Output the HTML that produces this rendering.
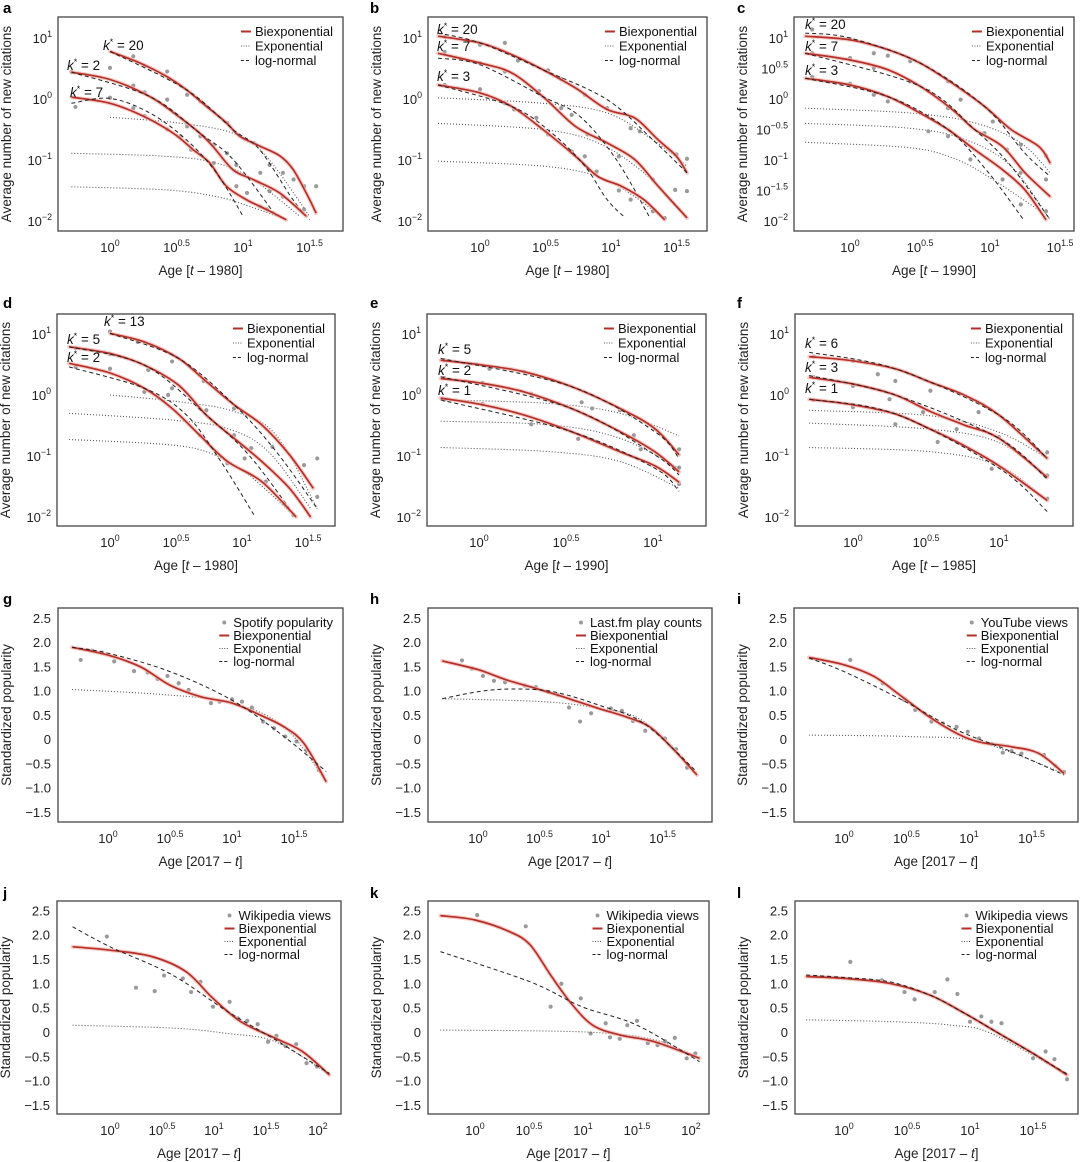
<!DOCTYPE html>
<html><head><meta charset="utf-8"><style>
html,body{margin:0;padding:0;background:#fff;}
svg{display:block;font-family:"Liberation Sans",Arial,sans-serif;}
</style></head><body>
<svg id="fig" width="1080" height="1162" viewBox="0 0 1080 1162" xmlns="http://www.w3.org/2000/svg"></svg>
<script>
// ---------- DATA (x = log10 age, y = log10 value for citation panels / standardized value for popularity) ----------
const aK20Bi=[[0,.78],[.225,.59],[.425,.37],[.575,.15],[.725,-.12],[.875,-.39],[.975,-.61],[1.125,-.77],[1.275,-.93],[1.375,-1.15],[1.475,-1.54],[1.55,-1.87]];
const aK2Bi=[[-.29,.44],[0,.32],[.3,.04],[.5,-.26],[.675,-.56],[.775,-.78],[.925,-1.16],[1.075,-1.32],[1.275,-1.54],[1.475,-1.92]];
const aK7Bi=[[-.29,.03],[0,-.07],[.25,-.28],[.475,-.56],[.625,-.83],[.75,-1.05],[.875,-1.43],[1.025,-1.65],[1.175,-1.81],[1.325,-1.98]];
const aK20Ex=[[0,-.3],[.5,-.39],[.925,-.56],[1.175,-.94],[1.5,-1.92]];
const aK2Ex=[[-.29,-.89],[.425,-.94],[.8,-1.05],[1.075,-1.32],[1.425,-1.92]];
const aK7Ex=[[-.29,-1.44],[.425,-1.49],[.8,-1.6],[1.05,-1.76],[1.325,-1.98]];
const aK20Ln=[[0,.78],[.575,.15],[.925,-.5],[1.125,-.83],[1.375,-1.65],[1.5,-1.98]];
const aK2Ln=[[-.29,.44],[.3,.04],[.675,-.56],[.925,-.99],[1.25,-1.92]];
const aK7Ln=[[-.29,-.07],[0,.01],[.3,-.23],[.575,-.67],[.8,-1.21],[1,-1.92]];
const aK20Pts=[[.175,.7],[.26,.54],[.43,.45],[.58,.07],[.68,-.04],[.88,-.39],[1.08,-.72],[1.2,-1.08],[1.3,-1.21],[1.38,-1.32],[1.46,-1.43],[1.55,-1.43]];
const aK2Pts=[[-.29,.44],[0,.51],[.175,.22],[.26,.11],[.43,-.01],[.58,-.45],[.68,-.61],[.78,-.75],[.88,-.89],[.95,-1.08],[1.13,-1.21],[1.2,-1.51],[1.3,-1.6],[1.46,-1.81]];
const aK7Pts=[[-.26,-.13],[0,.02],[.175,-.15],[.26,-.28],[.43,-.5],[.53,-.61],[.61,-.83],[.78,-1.05],[.95,-1.43],[1.03,-1.54],[1.13,-1.76],[1.18,-1.81]];

const bK20Bi=[[-.32,1.03],[0,.92],[.24,.73],[.48,.48],[.73,.18],[.97,-.17],[1.18,-.31],[1.36,-.67],[1.5,-.94],[1.58,-1.21]];
const bK7Bi=[[-.32,.75],[0,.59],[.24,.43],[.48,.04],[.73,-.45],[.97,-.72],[1.18,-.99],[1.36,-1.43],[1.58,-1.95]];
const bK3Bi=[[-.32,.23],[0,.1],[.24,-.12],[.48,-.5],[.73,-.94],[.9,-1.27],[1.08,-1.43],[1.25,-1.65],[1.41,-1.98]];
const bK20Ex=[[-.32,.02],[.48,-.07],[.97,-.23],[1.32,-.67],[1.58,-1.1]];
const bK7Ex=[[-.32,-.4],[.48,-.5],[.9,-.72],[1.25,-1.21],[1.58,-1.92]];
const bK3Ex=[[-.32,-1.02],[.48,-1.1],[.9,-1.27],[1.18,-1.6],[1.41,-1.98]];
const bK20Ln=[[-.32,1.08],[0,.92],[.48,.48],[.97,-.01],[1.32,-.67],[1.58,-1.21]];
const bK7Ln=[[-.32,.67],[0,.56],[.48,.04],[.76,-.28],[1.04,-.99],[1.29,-1.92]];
const bK3Ln=[[-.32,.23],[.24,-.12],[.55,-.56],[.8,-1.1],[.97,-1.65],[1.11,-1.95]];
const bK20Pts=[[-.27,1.02],[0,.89],[.19,.92],[.29,.63],[.52,.47],[.62,.33],[.8,.07],[.97,-.15],[1.15,-.48],[1.22,-.53],[1.5,-.91],[1.58,-.98]];
const bK7Pts=[[-.27,.77],[0,.59],[.19,.45],[.45,.13],[.62,-.15],[.7,-.26],[.82,-.58],[1.06,-.94],[1.32,-1.32],[1.49,-1.49],[1.58,-1.51]];
const bK3Pts=[[-.27,.23],[0,.16],[.19,-.07],[.26,-.17],[.43,-.31],[.52,-.58],[.7,-.86],[.8,-.94],[.89,-1.19],[1.06,-1.5],[1.15,-1.65],[1.32,-1.84],[1.41,-1.95]];

const cK20Bi=[[-.32,1.03],[0,.97],[.27,.81],[.5,.59],[.73,.26],[.96,-.12],[1.15,-.5],[1.35,-.78],[1.43,-1.05]];
const cK7Bi=[[-.32,.75],[0,.64],[.27,.48],[.5,.21],[.73,-.17],[.89,-.5],[1.09,-.78],[1.25,-1.21],[1.43,-1.6]];
const cK3Bi=[[-.32,.34],[0,.23],[.27,.04],[.5,-.23],[.7,-.5],[.89,-.83],[1.09,-1.16],[1.25,-1.49],[1.4,-1.98]];
const cK20Ex=[[-.32,-.15],[.43,-.23],[.89,-.39],[1.22,-.72],[1.43,-1.21]];
const cK7Ex=[[-.32,-.4],[.43,-.48],[.83,-.67],[1.15,-1.1],[1.43,-1.98]];
const cK3Ex=[[-.32,-.71],[.43,-.8],[.76,-.99],[1.02,-1.32],[1.38,-1.87]];
const cK20Ln=[[-.32,1.08],[0,1.0],[.5,.59],[.96,-.12],[1.25,-.89],[1.43,-1.27]];
const cK7Ln=[[-.32,.75],[.5,.21],[.89,-.5],[1.15,-1.1],[1.43,-1.98]];
const cK3Ln=[[-.32,.34],[.27,.04],[.7,-.5],[.99,-1.21],[1.24,-1.98]];
const cK20Pts=[[-.27,1.14],[0,.98],[.17,.75],[.27,.71],[.43,.62],[.7,.29],[.79,-.01],[1.02,-.37],[1.22,-.75],[1.4,-.93]];
const cK7Pts=[[-.27,.75],[0,.67],[.17,.51],[.43,.29],[.56,.13],[.7,-.15],[.96,-.56],[1.12,-.83],[1.22,-1.21],[1.4,-1.32]];
const cK3Pts=[[-.27,.36],[0,.25],[.17,.07],[.27,-.04],[.56,-.53],[.7,-.61],[.86,-.99],[1.09,-1.32],[1.22,-1.73],[1.4,-1.84]];

const dK13Bi=[[0,1.01],[.26,.87],[.52,.6],[.73,.22],[.94,-.16],[1.15,-.49],[1.36,-.98],[1.54,-1.53]];
const dK5Bi=[[-.31,.79],[0,.68],[.26,.49],[.52,.16],[.73,-.33],[.94,-.71],[1.15,-1.09],[1.36,-1.53],[1.52,-2.0]];
const dK2Bi=[[-.31,.52],[0,.36],[.26,.11],[.47,-.22],[.68,-.66],[.89,-1.09],[1.15,-1.42],[1.41,-2.0]];
const dK13Ex=[[0,0],[.52,-.11],[.94,-.27],[1.26,-.66],[1.57,-1.86]];
const dK5Ex=[[-.31,-.3],[.47,-.41],[.89,-.55],[1.2,-.93],[1.52,-1.86]];
const dK2Ex=[[-.31,-.73],[.47,-.82],[.79,-.98],[1.05,-1.31],[1.36,-1.91]];
const dK13Ln=[[0,1.01],[.52,.6],[.94,-.16],[1.26,-.93],[1.57,-1.86]];
const dK5Ln=[[-.31,.79],[.26,.49],[.73,-.33],[1.05,-.98],[1.36,-1.86]];
const dK2Ln=[[-.31,.46],[.26,.11],[.58,-.33],[.84,-1.09],[1.1,-2.0]];
const dK13Pts=[[0,1.04],[.21,.87],[.47,.55],[.71,.23],[.94,-.22],[1.23,-.85],[1.47,-1.15],[1.57,-1.04]];
const dK5Pts=[[-.26,.77],[0,.67],[.29,.41],[.47,.11],[.73,-.25],[.94,-.66],[1.07,-.87],[1.32,-1.78],[1.57,-1.67]];
const dK2Pts=[[-.26,.46],[0,.43],[.26,.05],[.44,0],[.68,-.66],[.89,-1.12],[1.02,-1.04],[1.18,-1.42],[1.39,-1.97]];

const eK5Bi=[[-.22,.57],[.02,.49],[.26,.38],[.53,.14],[.81,-.22],[1.01,-.55],[1.15,-.98]];
const eK2Bi=[[-.22,.27],[.02,.19],[.26,.05],[.53,-.22],[.81,-.6],[1.01,-.93],[1.15,-1.26]];
const eK1Bi=[[-.22,-.05],[.02,-.16],[.26,-.33],[.53,-.6],[.81,-.93],[1.01,-1.16],[1.15,-1.43]];
const eK5Ex=[[-.22,-.08],[.41,-.14],[.81,-.3],[1.15,-.67]];
const eK2Ex=[[-.22,-.43],[.41,-.49],[.81,-.71],[1.15,-1.2]];
const eK1Ex=[[-.22,-.86],[.41,-.93],[.81,-1.09],[1.15,-1.53]];
const eK5Ln=[[-.22,.6],[.53,.14],[1.01,-.6],[1.15,-1.04]];
const eK2Ln=[[-.22,.3],[.53,-.22],[1.01,-.98],[1.15,-1.31]];
const eK1Ln=[[-.22,-.08],[.53,-.6],[1.01,-1.2],[1.15,-1.58]];
const eK5Pts=[[-.2,.57],[.06,.43],[.26,.38],[.59,-.12],[.81,-.25],[1.15,-.89]];
const eK2Pts=[[-.2,.28],[.02,.2],[.3,.02],[.65,-.22],[.89,-.66],[1.15,-1.19]];
const eK1Pts=[[-.2,-.08],[.02,-.15],[.3,-.48],[.57,-.72],[.93,-.89],[1.15,-1.46]];

const fK6Bi=[[-.3,.63],[0,.56],[.29,.43],[.53,.21],[.76,0],[1.0,-.33],[1.33,-1.04]];
const fK3Bi=[[-.3,.29],[0,.18],[.29,0],[.53,-.27],[.76,-.49],[1.0,-.71],[1.33,-1.35]];
const fK1Bi=[[-.3,-.07],[0,-.16],[.29,-.31],[.53,-.56],[.76,-.83],[1.0,-1.16],[1.33,-1.73]];
const fK6Ex=[[-.3,-.25],[.53,-.34],[1.0,-.61],[1.33,-1.04]];
const fK3Ex=[[-.3,-.46],[.53,-.56],[1.0,-.78],[1.33,-1.35]];
const fK1Ex=[[-.3,-.86],[.53,-.93],[1.0,-1.16],[1.33,-1.73]];
const fK6Ln=[[-.3,.7],[.29,.43],[1.0,-.33],[1.33,-1.04]];
const fK3Ln=[[-.3,.32],[.29,0],[1.0,-.71],[1.33,-1.38]];
const fK1Ln=[[-.3,-.07],[.29,-.31],[1.0,-1.2],[1.33,-1.91]];
const fK6Pts=[[-.27,.63],[0,.56],[.17,.34],[.29,.23],[.53,.07],[.86,-.28],[1.33,-.94]];
const fK3Pts=[[-.27,.29],[0,.15],[.25,-.07],[.48,-.28],[.71,-.56],[1.0,-.69],[1.33,-1.32]];
const fK1Pts=[[-.27,-.08],[0,-.2],[.29,-.48],[.58,-.77],[.95,-1.21],[1.33,-1.7]];

const gBi=[[-.29,1.89],[0,1.73],[.26,1.49],[.5,1.11],[.75,.87],[1.0,.74],[1.23,.49],[1.42,.25],[1.58,-.09],[1.76,-.88]];
const gEx=[[-.29,1.02],[.48,.91],[1.0,.74],[1.42,.25],[1.76,-.88]];
const gLn=[[-.29,1.89],[0,1.77],[.5,1.39],[1.0,.8],[1.42,.05],[1.76,-.67]];
const gPts=[[-.22,1.63],[-.13,1.82],[-.05,1.78],[.05,1.6],[.21,1.4],[.32,1.37],[.4,1.24],[.48,1.3],[.57,1.15],[.65,1.01],[.83,.74],[.9,.77],[1.0,.82],[1.08,.77],[1.16,.65],[1.25,.36],[1.34,.22],[1.43,.05],[1.52,-.05],[1.6,-.23],[1.7,-.64]];

const hBi=[[-.29,1.61],[0,1.43],[.23,1.22],[.46,1.05],[.68,.88],[.98,.63],[1.2,.46],[1.39,.26],[1.57,-.16],[1.78,-.74]];
const hEx=[[-.29,.83],[.53,.77],[.98,.63],[1.35,.36],[1.78,-.74]];
const hLn=[[-.29,.83],[.01,.98],[.27,1.03],[.6,.98],[.98,.7],[1.35,.32],[1.78,-.68]];
const hPts=[[-.13,1.62],[-.05,1.45],[.04,1.3],[.13,1.2],[.22,1.17],[.38,1.1],[.47,1.07],[.57,.97],[.65,.91],[.74,.65],[.83,.36],[.92,.53],[1.08,.63],[1.17,.58],[1.26,.37],[1.36,.17],[1.52,.01],[1.61,-.21],[1.7,-.59]];

const iBi=[[-.28,1.68],[0,1.53],[.24,1.29],[.46,.88],[.68,.46],[.9,.12],[1.08,-.06],[1.34,-.16],[1.56,-.3],[1.76,-.71]];
const iEx=[[-.28,.08],[.53,.05],[1.08,-.06],[1.76,-.71]];
const iLn=[[-.28,1.67],[0,1.39],[.46,.81],[.9,.19],[1.34,-.26],[1.76,-.74]];
const iPts=[[.05,1.63],[.31,1.15],[.48,.81],[.57,.6],[.7,.36],[.79,.32],[.9,.25],[.99,.15],[1.08,.01],[1.18,-.1],[1.27,-.28],[1.34,-.25],[1.42,-.3],[1.6,-.33],[1.69,-.55],[1.76,-.68]];

const jBi=[[-.36,1.75],[0,1.68],[.4,1.55],[.73,1.24],[.99,.69],[1.26,.21],[1.59,-.13],[1.85,-.4],[2.11,-.88]];
const jEx=[[-.36,.14],[.6,.08],[1.13,-.03],[1.59,-.2],[2.11,-.88]];
const jLn=[[-.36,2.16],[0,1.75],[.6,1.17],[1.13,.42],[1.59,-.16],[2.11,-.85]];
const jPts=[[-.03,1.96],[.25,.91],[.43,.84],[.52,1.16],[.7,1.1],[.78,.82],[.87,1.03],[.99,.52],[1.15,.62],[1.23,.28],[1.32,.23],[1.42,.16],[1.52,-.2],[1.6,-.08],[1.69,-.29],[1.79,-.25],[1.89,-.64],[1.99,-.71]];

const kBi=[[-.32,2.39],[0,2.3],[.32,2.06],[.51,1.79],[.7,1.17],[.89,.59],[1.09,.14],[1.34,-.06],[1.66,-.2],[2.08,-.54]];
const kEx=[[-.32,.04],[1.02,0],[1.66,-.16],[2.08,-.54]];
const kLn=[[-.32,1.65],[.51,1.03],[.99,.52],[1.5,.14],[2.08,-.61]];
const kPts=[[.02,2.4],[.47,2.17],[.7,.52],[.8,.99],[.98,.69],[1.07,-.03],[1.21,.18],[1.25,-.11],[1.34,-.14],[1.41,.14],[1.5,.23],[1.6,-.23],[1.69,-.27],[1.76,-.19],[1.85,-.12],[1.96,-.54],[2.04,-.44]];

const lBi=[[-.3,1.14],[0,1.1],[.36,1.0],[.68,.76],[.96,.38],[1.23,-.03],[1.5,-.44],[1.77,-.88]];
const lEx=[[-.3,.25],[.41,.21],[.85,.14],[1.17,-.03],[1.77,-.88]];
const lLn=[[-.3,1.17],[0,1.12],[.36,1.03],[.68,.76],[.96,.38],[1.23,-.03],[1.77,-.86]];
const lPts=[[.05,1.44],[.3,1.06],[.48,.82],[.56,.67],[.72,.82],[.82,1.08],[.9,.78],[1.0,.21],[1.09,.32],[1.17,.21],[1.25,.18],[1.5,-.54],[1.6,-.4],[1.67,-.56],[1.77,-.97]];

const citeYTicks=[1,0,-1,-2];
const citeYTicksHalf=[1,.5,0,-.5,-1,-1.5,-2];
const popYTicks=[2.5,2,1.5,1,.5,0,-.5,-1,-1.5];
const popYLabels=["2.5","2.0","1.5","1.0","0.5","0","\u22120.5","\u22121.0","\u22121.5"];

// ---------- LAYOUT ----------
const panels=[
 {id:'a',lx:3,ly:13,box:[58,17,343,231],x0:110,ppd:133,yz:99,ppy:61,kind:'cite',yt:citeYTicks,xt:[0,.5,1,1.5],yr:'1980',
  curves:[[aK20Bi,aK20Ex,aK20Ln,aK20Pts],[aK2Bi,aK2Ex,aK2Ln,aK2Pts],[aK7Bi,aK7Ex,aK7Ln,aK7Pts]],
  labels:[['20',103,50],['2',67,70],['7',70,97]]},
 {id:'b',lx:370,ly:13,box:[428,17,707,231],x0:480,ppd:131,yz:99,ppy:61,kind:'cite',yt:citeYTicks,xt:[0,.5,1,1.5],yr:'1980',
  curves:[[bK20Bi,bK20Ex,bK20Ln,bK20Pts],[bK7Bi,bK7Ex,bK7Ln,bK7Pts],[bK3Bi,bK3Ex,bK3Ln,bK3Pts]],
  labels:[['20',437,34],['7',437,51],['3',437,81]]},
 {id:'c',lx:737,ly:13,box:[794,17,1074,231],x0:850,ppd:140,yz:99,ppy:61,kind:'cite',yt:citeYTicksHalf,xt:[0,.5,1,1.5],yr:'1990',
  curves:[[cK20Bi,cK20Ex,cK20Ln,cK20Pts],[cK7Bi,cK7Ex,cK7Ln,cK7Pts],[cK3Bi,cK3Ex,cK3Ln,cK3Pts]],
  labels:[['20',805,29],['7',805,51],['3',805,75]]},
 {id:'d',lx:3,ly:308,box:[57,314,335,526],x0:110,ppd:132,yz:395,ppy:61,kind:'cite',yt:citeYTicks,xt:[0,.5,1,1.5],yr:'1980',
  curves:[[dK13Bi,dK13Ex,dK13Ln,dK13Pts],[dK5Bi,dK5Ex,dK5Ln,dK5Pts],[dK2Bi,dK2Ex,dK2Ln,dK2Pts]],
  labels:[['13',104,326],['5',67,344],['2',67,362]]},
 {id:'e',lx:370,ly:308,box:[427,314,706,526],x0:479,ppd:174,yz:395,ppy:61,kind:'cite',yt:citeYTicks,xt:[0,.5,1],yr:'1990',
  curves:[[eK5Bi,eK5Ex,eK5Ln,eK5Pts],[eK2Bi,eK2Ex,eK2Ln,eK2Pts],[eK1Bi,eK1Ex,eK1Ln,eK1Pts]],
  labels:[['5',438,354],['2',438,375],['1',438,395]]},
 {id:'f',lx:737,ly:308,box:[795,314,1073,526],x0:853,ppd:146,yz:395,ppy:61,kind:'cite',yt:citeYTicks,xt:[0,.5,1],yr:'1985',
  curves:[[fK6Bi,fK6Ex,fK6Ln,fK6Pts],[fK3Bi,fK3Ex,fK3Ln,fK3Pts],[fK1Bi,fK1Ex,fK1Ln,fK1Pts]],
  labels:[['6',805,348],['3',805,372],['1',805,393]]},
 {id:'g',lx:3,ly:604,box:[58,608,343,822],x0:108,ppd:124,yz:739,ppy:48.5,kind:'pop',xt:[0,.5,1,1.5],src:'Spotify popularity',curves:[[gBi,gEx,gLn,gPts]]},
 {id:'h',lx:370,ly:604,box:[428,608,712,822],x0:478,ppd:123,yz:739,ppy:48.5,kind:'pop',xt:[0,.5,1,1.5],src:'Last.fm play counts',curves:[[hBi,hEx,hLn,hPts]]},
 {id:'i',lx:737,ly:604,box:[794,608,1078,822],x0:844,ppd:125,yz:739,ppy:48.5,kind:'pop',xt:[0,.5,1,1.5],src:'YouTube views',curves:[[iBi,iEx,iLn,iPts]]},
 {id:'j',lx:3,ly:898,box:[57,901,341,1114],x0:110,ppd:104,yz:1032,ppy:48.7,kind:'pop',xt:[0,.5,1,1.5,2],src:'Wikipedia views',curves:[[jBi,jEx,jLn,jPts]]},
 {id:'k',lx:370,ly:898,box:[428,901,709,1114],x0:475,ppd:108,yz:1032,ppy:48.7,kind:'pop',xt:[0,.5,1,1.5,2],src:'Wikipedia views',curves:[[kBi,kEx,kLn,kPts]]},
 {id:'l',lx:737,ly:898,box:[795,901,1078,1114],x0:844,ppd:126,yz:1032,ppy:48.7,kind:'pop',xt:[0,.5,1,1.5],src:'Wikipedia views',curves:[[lBi,lEx,lLn,lPts]]}
];

const NS='http://www.w3.org/2000/svg';
const svg=document.getElementById('fig');
function mk(tag,attrs,parent){const e=document.createElementNS(NS,tag);for(const k in attrs)e.setAttribute(k,attrs[k]);(parent||svg).appendChild(e);return e;}
function smooth(pts){
  if(pts.length<2)return '';
  let d='M'+pts[0][0].toFixed(1)+','+pts[0][1].toFixed(1);
  for(let i=0;i<pts.length-1;i++){
    const p0=pts[i-1]||pts[i],p1=pts[i],p2=pts[i+1],p3=pts[i+2]||p2;
    const c1=[p1[0]+(p2[0]-p0[0])/6,p1[1]+(p2[1]-p0[1])/6];
    const c2=[p2[0]-(p3[0]-p1[0])/6,p2[1]-(p3[1]-p1[1])/6];
    d+='C'+c1[0].toFixed(1)+','+c1[1].toFixed(1)+' '+c2[0].toFixed(1)+','+c2[1].toFixed(1)+' '+p2[0].toFixed(1)+','+p2[1].toFixed(1);
  }
  return d;
}
function pow10(parent,x,y,exp,anchor,size){
  const t=mk('text',{x:x,y:y,'text-anchor':anchor,'font-size':size,fill:'#222'},parent);
  t.appendChild(document.createTextNode('10'));
  const s=mk('tspan',{dy:-6,'font-size':size*0.68},t);
  s.textContent=exp;
  return t;
}
function fmtExp(v){return (v<0?'\u2212':'')+String(Math.abs(v));}

panels.forEach(p=>{
  const g=mk('g',{});
  
  
  const [L,T,R,B]=p.box;
  const X=v=>p.x0+v*p.ppd, Y=v=>p.yz-v*p.ppy;
  const lt=mk('text',{x:p.lx,y:p.ly,'font-size':15,'font-weight':'bold',fill:'#000'},g);
  lt.textContent=p.id;
  
  
  const plot=mk('g',{},g);
  
  
  const cid='clip'+p.id;
  const cp=mk('clipPath',{id:cid},g);mk('rect',{x:L,y:T,width:R-L,height:B-T},cp);
  const series=mk('g',{'clip-path':'url(#'+cid+')'},plot);
  p.curves.forEach((c,ci)=>{
    const [bi,ex,ln,pts]=c;
    const tp=a=>a.map(q=>[X(q[0]),Y(q[1])]);
    pts.forEach(q=>{
      const dot=mk('circle',{cx:X(q[0]),cy:Y(q[1]),r:2.1,fill:'#9a9a9a'},series);
      
      
    });
    const e=mk('path',{d:smooth(tp(ex)),fill:'none',stroke:'#555','stroke-width':1.1,'stroke-dasharray':'1,2'},series);
    
    
    const halo=mk('path',{d:smooth(tp(bi)),fill:'none',stroke:'#f2b8b0','stroke-width':4,'stroke-linecap':'round',opacity:.7},series);
    
    
    const b=mk('path',{d:smooth(tp(bi)),fill:'none',stroke:'#b5302a','stroke-width':1.7},series);
    
    
    const l=mk('path',{d:smooth(tp(ln)),fill:'none',stroke:'#222','stroke-width':1,'stroke-dasharray':'4,3'},series);
    
    
  });
  const frame=mk('rect',{x:L,y:T,width:R-L,height:B-T,fill:'none',stroke:'#444','stroke-width':1.3},plot);
  
  
  // y ticks
  if(p.kind==='cite'){
    p.yt.forEach(v=>{
      const t=pow10(g,L-6,Y(v)+5,fmtExp(v),'end',13);
      
      
    });
  } else {
    popYTicks.forEach((v,i)=>{
      const t=mk('text',{x:L-7,y:Y(v)+5,'text-anchor':'end','font-size':13,fill:'#222'},g);
      t.textContent=popYLabels[i];
      
      
    });
  }
  p.xt.forEach(v=>{
    const t=pow10(g,X(v),B+21,String(v),'middle',13);
    
    
  });
  // axis titles
  const xt=mk('text',{x:(L+R)/2,y:B+44,'text-anchor':'middle','font-size':13.5,fill:'#222'},g);
  
  
  if(p.kind==='cite'){
    xt.appendChild(document.createTextNode('Age ['));
    const it=mk('tspan',{'font-style':'italic'},xt);it.textContent='t';
    xt.appendChild(document.createTextNode(' \u2013 '+p.yr+']'));
  } else {
    xt.appendChild(document.createTextNode('Age [2017 \u2013 '));
    const it=mk('tspan',{'font-style':'italic'},xt);it.textContent='t';
    xt.appendChild(document.createTextNode(']'));
  }
  const ytx=L-47, yty=(T+B)/2;
  const yt=mk('text',{x:ytx,y:yty,'text-anchor':'middle','font-size':13.5,fill:'#222',transform:'rotate(-90 '+ytx+' '+yty+')'},g);
  yt.textContent=p.kind==='cite'?'Average number of new citations':'Standardized popularity';
  
  
  // k* labels
  if(p.labels){p.labels.forEach(lb=>{
    const t=mk('text',{x:lb[1],y:lb[2],'font-size':13.5,fill:'#111'},g);
    const k=mk('tspan',{'font-style':'italic'},t);k.textContent='k';
    const s=mk('tspan',{dy:-5,'font-size':9},t);s.textContent='*';
    const r=mk('tspan',{dy:5},t);r.textContent=' = '+lb[0];
    
    
  });}
  // legend
  const leg=mk('g',{},g);
  
  
  const names=p.kind==='cite'?['Biexponential','Exponential','log-normal']:[p.src,'Biexponential','Exponential','log-normal'];
  const types=p.kind==='cite'?['bi','ex','ln']:['pt','bi','ex','ln'];
  const step=p.kind==='cite'?14.5:13;
  const texts=names.map((n,i)=>{const t=mk('text',{x:0,y:T+19+i*step,'font-size':13,fill:'#111'},leg);t.textContent=n;
    
    
    return t;});
  let w=0;texts.forEach(t=>{w=Math.max(w,t.getComputedTextLength());});
  const tx=R-10-w;
  texts.forEach((t,i)=>{
    t.setAttribute('x',tx);
    const cy=T+14.5+i*step, x1=tx-14, x2=tx-4;
    if(types[i]==='pt')mk('circle',{cx:tx-9,cy:cy,r:2,fill:'#9a9a9a'},leg);
    if(types[i]==='bi')mk('line',{x1:x1,x2:x2,y1:cy,y2:cy,stroke:'#b5302a','stroke-width':2},leg);
    if(types[i]==='ex')mk('line',{x1:x1,x2:x2,y1:cy,y2:cy,stroke:'#555','stroke-width':1,'stroke-dasharray':'1,1.5'},leg);
    if(types[i]==='ln')mk('line',{x1:x1,x2:x2,y1:cy,y2:cy,stroke:'#222','stroke-width':1,'stroke-dasharray':'3,2'},leg);
  });
});
</script>
</body></html>
